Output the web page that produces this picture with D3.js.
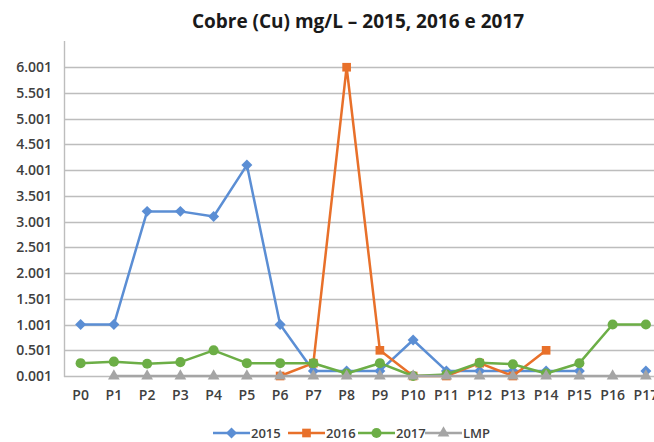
<!DOCTYPE html>
<html>
<head>
<meta charset="utf-8">
<script src="https://cdn.jsdelivr.net/npm/d3@7"></script>
<style>
    html, body { margin: 0; padding: 0; background: #fff; }
    svg { display: block; }
</style>
</head>
<body>
<div id="app"></div>
<script>
(() => {
    const categories = ['P0', 'P1', 'P2', 'P3', 'P4', 'P5', 'P6', 'P7', 'P8', 'P9',
        'P10', 'P11', 'P12', 'P13', 'P14', 'P15', 'P16', 'P17'];
    const values2015 = [1.001, 1.001, 3.2, 3.2, 3.1, 4.1, 1.001, 0.1, 0.1, 0.1,
        0.7, 0.1, 0.1, 0.1, 0.1, 0.1, null, 0.1];
    const values2016 = [null, null, null, null, null, null, 0.001, 0.25, 6.001, 0.5,
        0.001, 0.001, 0.25, 0.001, 0.5, null, null, null];
    const values2017 = [0.25, 0.28, 0.24, 0.27, 0.5, 0.25, 0.25, 0.25, 0.05, 0.25,
        0.001, 0.03, 0.26, 0.23, 0.05, 0.25, 1.001, 1.001];
    const valuesLMP = [null, 0.001, 0.001, 0.001, 0.001, 0.001, 0.001, 0.001, 0.001, 0.001,
        0.001, 0.001, 0.001, 0.001, 0.001, 0.001, 0.001, 0.001];
    const yTicks = [0.001, 0.501, 1.001, 1.501, 2.001, 2.501, 3.001, 3.501, 4.001, 4.501, 5.001, 5.501, 6.001];

    const series = [
        { name: '2015', values: values2015, color: '#5b8ed4', symbol: d3.symbolSquare, size: 60, rotate: 45 },
        { name: '2016', values: values2016, color: '#e8702a', symbol: d3.symbolSquare, size: 75, rotate: 0 },
        { name: '2017', values: values2017, color: '#6cae46', symbol: d3.symbolCircle, size: 80, rotate: 0 },
        { name: 'LMP', values: valuesLMP, color: '#a5a5a5', symbol: d3.symbolTriangle, size: 60, rotate: 0 },
    ];

    const width = 654;
    const height = 442;
    const font = '"Open Sans", "Liberation Sans", Arial, sans-serif';
    const textColor = '#404040';

    const x = d3.scaleBand()
        .domain(categories)
        .range([64, 64 + 18 * 33.25])
        .padding(0);
    const cx = c => x(c) + x.bandwidth() / 2;

    const y = d3.scaleLinear()
        .domain([0.001, 6.501])
        .range([376, 41.5]);

    const svg = d3.select('#app').append('svg')
        .attr('width', width)
        .attr('height', height)
        .style('font-family', font);

    svg.append('text')
        .attr('x', 358)
        .attr('y', 28)
        .attr('text-anchor', 'middle')
        .attr('fill', '#1a1a1a')
        .style('font-size', '19px')
        .style('font-weight', 700)
        .text('Cobre (Cu) mg/L – 2015, 2016 e 2017');

    // gridlines
    svg.append('g')
        .selectAll('line')
        .data(yTicks)
        .enter().append('line')
        .attr('x1', 64)
        .attr('x2', width)
        .attr('y1', d => Math.round(y(d)) + 0.5)
        .attr('y2', d => Math.round(y(d)) + 0.5)
        .attr('stroke', '#bdbdbd')
        .attr('stroke-width', 1.6);

    // y axis line
    svg.append('line')
        .attr('x1', 64.5).attr('x2', 64.5)
        .attr('y1', 41).attr('y2', 377)
        .attr('stroke', '#bdbdbd')
        .attr('stroke-width', 1.4);

    const yAxis = d3.axisLeft(y)
        .tickValues(yTicks)
        .tickFormat(d3.format('.3f'))
        .tickSize(0)
        .tickPadding(12);
    const yg = svg.append('g')
        .attr('transform', 'translate(64,0)')
        .call(yAxis);
    yg.select('.domain').remove();
    yg.selectAll('text')
        .attr('fill', textColor)
        .style('font-family', font)
        .style('font-size', '14px')
        .style('font-weight', 600);

    const xAxis = d3.axisBottom(x)
        .tickSize(0)
        .tickPadding(14);
    const xg = svg.append('g')
        .attr('transform', 'translate(0,376)')
        .call(xAxis);
    xg.select('.domain').remove();
    xg.selectAll('text')
        .attr('fill', textColor)
        .style('font-family', font)
        .style('font-size', '14px')
        .style('font-weight', 600);

    const line = d3.line()
        .defined(d => d.v != null)
        .x(d => cx(d.c))
        .y(d => y(d.v));

    series.forEach(s => {
        const pts = categories.map((c, i) => ({ c, v: s.values[i] }));
        const g = svg.append('g');
        g.append('path')
            .datum(pts)
            .attr('fill', 'none')
            .attr('stroke', s.color)
            .attr('stroke-width', 2.5)
            .attr('stroke-linejoin', 'round')
            .attr('d', line);
        g.selectAll('path.m')
            .data(pts.filter(d => d.v != null))
            .enter().append('path')
            .attr('class', 'm')
            .attr('fill', s.color)
            .attr('transform', d => `translate(${cx(d.c)},${y(d.v)}) rotate(${s.rotate})`)
            .attr('d', d3.symbol().type(s.symbol).size(s.size));
    });

    // legend
    const legendX = [213, 288, 358, 425];
    const legend = svg.append('g');
    series.forEach((s, i) => {
        const lx = legendX[i];
        const ly = 433;
        const g = legend.append('g');
        g.append('line')
            .attr('x1', lx).attr('x2', lx + 37)
            .attr('y1', ly).attr('y2', ly)
            .attr('stroke', s.color)
            .attr('stroke-width', 2.5);
        g.append('path')
            .attr('fill', s.color)
            .attr('transform', `translate(${lx + 18.5},${ly}) rotate(${s.rotate})`)
            .attr('d', d3.symbol().type(s.symbol).size(s.size));
        g.append('text')
            .attr('x', lx + 38)
            .attr('y', ly + 4.5)
            .attr('fill', textColor)
            .style('font-size', '13px')
            .style('font-weight', 600)
            .text(s.name);
    });
})();
</script>
</body>
</html>
